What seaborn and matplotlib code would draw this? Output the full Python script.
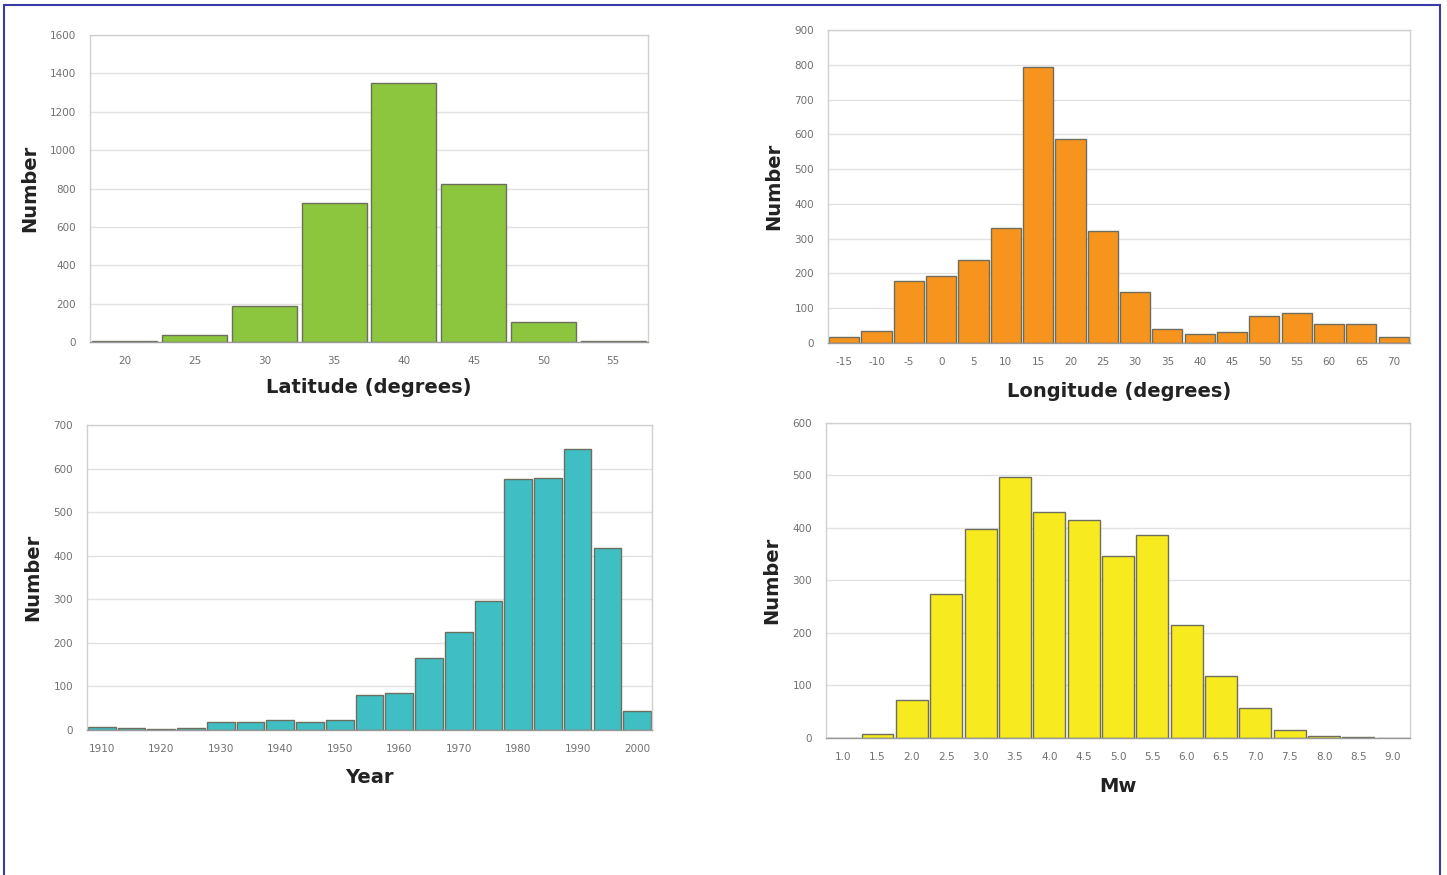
import matplotlib
matplotlib.use("Agg")
import matplotlib.pyplot as plt
import seaborn as sns
from matplotlib.patches import Rectangle

# Data
lat_bins = ["20", "25", "30", "35", "40", "45", "50", "55"]
lat_counts = [3, 35, 190, 725, 1350, 825, 105, 3]

lon_bins = ["-15", "-10", "-5", "0", "5", "10", "15", "20", "25", "30",
            "35", "40", "45", "50", "55", "60", "65", "70"]
lon_counts = [18, 35, 178, 192, 240, 330, 795, 588, 323, 147,
              40, 25, 32, 78, 85, 55, 55, 18]

year_bins = ["1910", "1915", "1920", "1925", "1930", "1935", "1940", "1945", "1950", "1955",
             "1960", "1965", "1970", "1975", "1980", "1985", "1990", "1995", "2000"]
year_counts = [8, 5, 2, 5, 18, 18, 24, 18, 22, 80,
               84, 165, 225, 296, 577, 578, 645, 418, 43]

mw_bins = ["1.0", "1.5", "2.0", "2.5", "3.0", "3.5", "4.0", "4.5", "5.0",
           "5.5", "6.0", "6.5", "7.0", "7.5", "8.0", "8.5", "9.0"]
mw_counts = [0, 7, 73, 275, 398, 497, 430, 415, 347,
             386, 215, 118, 58, 16, 4, 2, 0]

sns.set_style("white")
plt.rcParams['font.family'] = ['DejaVu Sans']

fig = plt.figure(figsize=(14.47, 8.75), dpi=100)

# blue page frame
fig.patches.append(Rectangle((4 / 1447, -0.05), 1436 / 1447, 1 - 5 / 875 + 0.05,
                             transform=fig.transFigure, fill=False,
                             edgecolor="#3a3aa8", linewidth=1.5))

panels = [
    # bins, counts, colour, xlabel, ylim, ystep, rect, label every, xlabel pad
    (lat_bins, lat_counts, "#8cc63e", "Latitude (degrees)", 1600, 200,
     [0.0622, 0.6091, 0.3856, 0.3509], 1, 8.5),
    (lon_bins, lon_counts, "#f7941e", "Longitude (degrees)", 900, 100,
     [0.5722, 0.6080, 0.4022, 0.3577], 1, 11),
    (year_bins, year_counts, "#3fbfc4", "Year", 700, 100,
     [0.0601, 0.1657, 0.3905, 0.3486], 2, 10),
    (mw_bins, mw_counts, "#f7ea1e", "Mw", 600, 100,
     [0.5708, 0.1566, 0.4036, 0.3600], 1, 11),
]

for bins, counts, color, xlabel, ytop, ystep, rect, every, xpad in panels:
    ax = fig.add_axes(rect)
    sns.barplot(x=bins, y=counts, order=bins, color=color, width=0.93,
                edgecolor="#6e6e5e", linewidth=1.0, saturation=1, ax=ax)
    ax.set_xlim(-0.5, len(bins) - 0.5)
    ax.set_ylim(0, ytop)
    ax.set_yticks(range(0, ytop + 1, ystep))
    ax.set_xticks(range(0, len(bins), every))
    ax.set_xticklabels(bins[::every])
    ax.yaxis.grid(True, color="#e2e2e2", linewidth=1.0)
    ax.set_axisbelow(True)
    for side, sp in ax.spines.items():
        sp.set_visible(True)
        sp.set_color("#d0d0d0")
        sp.set_linewidth(1.0)
    ax.spines["bottom"].set_color("#9a9a9a")
    ax.tick_params(axis="both", labelsize=7.5, colors="#707070", length=0, pad=10)
    ax.tick_params(axis="y", length=4, color="#c8c8c8", pad=6)
    ax.set_xlabel(xlabel, fontsize=14, fontweight="bold", color="#222222", labelpad=xpad)
    ax.set_ylabel("Number", fontsize=14, fontweight="bold", color="#222222", labelpad=8)

fig.savefig("out.png", dpi=100, facecolor="white")
